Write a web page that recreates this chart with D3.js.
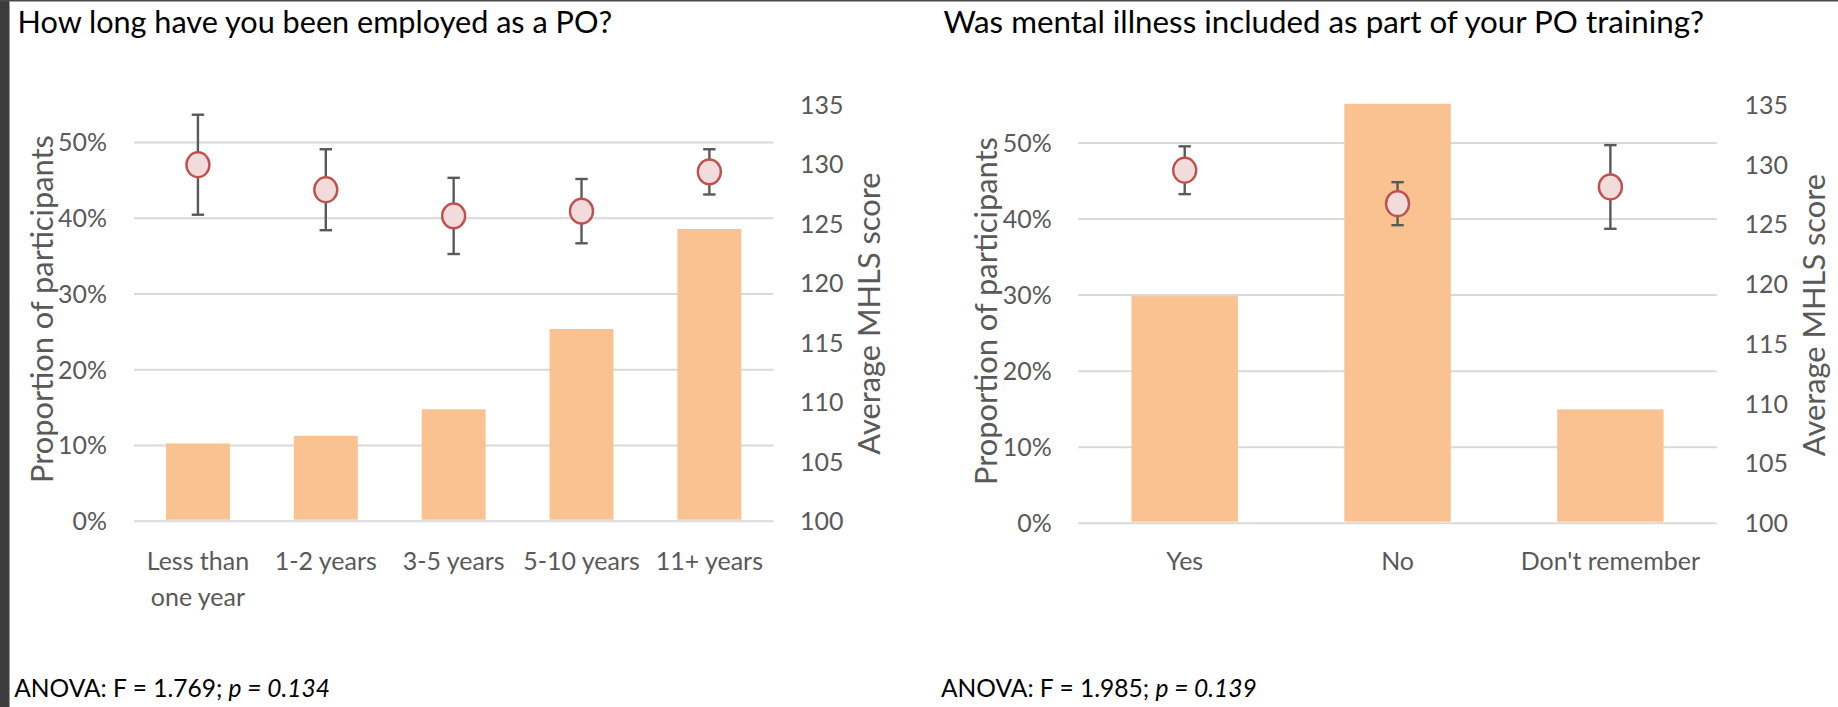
<!DOCTYPE html>
<html><head><meta charset="utf-8">
<script src="https://cdn.jsdelivr.net/npm/d3@7"></script>
<style>html,body{margin:0;padding:0;background:#fff;} svg{display:block;}</style>
</head><body>
<svg id="c" width="1838" height="707"></svg>
<script>
// ---------- data ----------
const catsTenure = ["Less than one year", "1-2 years", "3-5 years", "5-10 years", "11+ years"];
const shareTenure = [0.102, 0.112, 0.147, 0.253, 0.385];
const mhlsTenure = [129.9, 127.8, 125.6, 126.0, 129.3];
const errTenure = [4.2, 3.4, 3.2, 2.7, 1.9];

const catsTraining = ["Yes", "No", "Don't remember"];
const shareTraining = [0.298, 0.551, 0.149];
const mhlsTraining = [129.5, 126.7, 128.1];
const errTraining = [2.0, 1.8, 3.5];

const shareTicks = [0, 0.1, 0.2, 0.3, 0.4, 0.5];
const scoreTicks = [100, 105, 110, 115, 120, 125, 130, 135];
const shareDomain = [0, 0.55];
const scoreDomain = [100, 135];

const titles = ["How long have you been employed as a PO?", "Was mental illness included as part of your PO training?"];
const anovaF = ["1.769", "1.985"];
const anovaP = ["0.134", "0.139"];
const yTitle = "Proportion of participants";
const y2Title = "Average MHLS score";

// ---------- setup ----------
const FONT = "Lato, 'Open Sans', 'DejaVu Sans', sans-serif";
const svg = d3.select("#c");
svg.append("rect").attr("width", 1838).attr("height", 707).attr("fill", "#fff");

function fitSize(str, target, style) {
  const t = svg.append("text").attr("font-family", FONT).attr("font-size", 100)
    .attr("font-style", style || "normal").text(str);
  const w = t.node().getComputedTextLength();
  t.remove();
  return 100 * target / w;
}
function anovaText(sel, i) {
  sel.append("tspan").text("ANOVA: F = " + anovaF[i] + "; ");
  sel.append("tspan").attr("font-style", "italic").text("p = " + anovaP[i]);
}
const tickFS = fitSize("1-2 years", 102);
const titleFS = [fitSize(titles[0], 595), fitSize(titles[1], 761)];
const axTitleFS = fitSize(yTitle, 348);
let anovaFS;
{
  const t = svg.append("text").attr("font-family", FONT).attr("font-size", 100);
  anovaText(t, 0);
  anovaFS = 100 * 316 / t.node().getComputedTextLength();
  t.remove();
}

function panel(cfg) {
  const g = svg.append("g");
  const x = d3.scaleBand().domain(cfg.cats).range([cfg.x0, cfg.x1]).paddingInner(0.5).paddingOuter(0.25);
  const y = d3.scaleLinear().domain(shareDomain).range([cfg.yb, cfg.yt]);
  const y2 = d3.scaleLinear().domain(scoreDomain).range([cfg.yb, cfg.yt]);

  // gridlines
  const grid = g.append("g").attr("transform", `translate(${cfg.x0},0)`)
    .call(d3.axisLeft(y).tickValues(shareTicks).tickSize(-(cfg.x1 - cfg.x0)).tickFormat(""));
  grid.select(".domain").remove();
  grid.selectAll("line").attr("stroke", "#d9d9d9").attr("stroke-width", 2);

  // left axis labels
  const la = g.append("g").attr("transform", `translate(${cfg.lx},0)`)
    .call(d3.axisLeft(y).tickValues(shareTicks).tickSize(0).tickPadding(0).tickFormat(d3.format(".0%")));
  la.select(".domain").remove();
  la.selectAll("text").attr("font-family", FONT).attr("font-size", tickFS).attr("fill", "#595959").attr("dy", "0.36em");

  // right axis labels
  const ra = g.append("g").attr("transform", `translate(${cfg.rx},0)`)
    .call(d3.axisRight(y2).tickValues(scoreTicks).tickSize(0).tickPadding(0));
  ra.select(".domain").remove();
  ra.selectAll("text").attr("font-family", FONT).attr("font-size", tickFS).attr("fill", "#595959").attr("dy", "0.36em");

  // bars
  g.append("g").selectAll("rect").data(cfg.share).join("rect")
    .attr("x", (d, i) => x(cfg.cats[i]))
    .attr("width", x.bandwidth())
    .attr("y", d => y(d))
    .attr("height", d => y(0) - y(d) - 1)
    .attr("fill", "#F9C290");

  // error bars
  const cx = i => x(cfg.cats[i]) + x.bandwidth() / 2;
  const eb = g.append("g").attr("stroke", "#595959").attr("stroke-width", 2.4).attr("fill", "none");
  cfg.mhls.forEach((m, i) => {
    const top = y2(m + cfg.err[i]), bot = y2(m - cfg.err[i]), c = cx(i);
    eb.append("line").attr("x1", c).attr("x2", c).attr("y1", top).attr("y2", bot);
    eb.append("line").attr("x1", c - 6.2).attr("x2", c + 6.2).attr("y1", top).attr("y2", top);
    eb.append("line").attr("x1", c - 6.2).attr("x2", c + 6.2).attr("y1", bot).attr("y2", bot);
  });
  // markers
  g.append("g").selectAll("ellipse").data(cfg.mhls).join("ellipse")
    .attr("cx", (d, i) => cx(i)).attr("cy", d => y2(d))
    .attr("rx", 11.5).attr("ry", 12.4)
    .attr("fill", "#F2DCDB").attr("stroke", "#C0504D").attr("stroke-width", 2.4);

  // x labels
  const xa = g.append("g").attr("transform", `translate(0,${cfg.yb})`)
    .call(d3.axisBottom(x).tickSize(0).tickPadding(0));
  xa.select(".domain").remove();
  xa.selectAll("text").attr("font-family", FONT).attr("font-size", tickFS).attr("fill", "#595959")
    .attr("y", 0).attr("dy", 0)
    .each(function (d) {
      const t = d3.select(this);
      const words = d.split(" ");
      const lines = [];
      let cur = "";
      t.text("");
      words.forEach(w => {
        const test = cur ? cur + " " + w : w;
        t.text(test);
        if (t.node().getComputedTextLength() > x.step() * 0.92 && cur) { lines.push(cur); cur = w; }
        else cur = test;
      });
      lines.push(cur);
      t.text("");
      lines.forEach((ln, k) => {
        t.append("tspan").attr("x", 0).attr("y", cfg.lab1 - cfg.yb + k * 36).text(ln);
      });
    });

  // axis titles
  g.append("text").attr("transform", `translate(${cfg.ytx},${cfg.yty}) rotate(-90)`)
    .attr("text-anchor", "middle").attr("font-family", FONT).attr("font-size", axTitleFS)
    .attr("fill", "#595959").text(yTitle);
  g.append("text").attr("transform", `translate(${cfg.y2tx},${cfg.y2ty}) rotate(-90)`)
    .attr("text-anchor", "middle").attr("font-family", FONT).attr("font-size", axTitleFS)
    .attr("fill", "#595959").text(y2Title);

  // chart title
  g.append("text").attr("x", cfg.tx).attr("y", cfg.ty).attr("font-family", FONT)
    .attr("font-size", titleFS[cfg.idx]).attr("fill", "#000").text(cfg.title);

  // anova
  const an = g.append("text").attr("x", cfg.ax).attr("y", 697).attr("font-family", FONT)
    .attr("font-size", anovaFS).attr("fill", "#000");
  anovaText(an, cfg.idx);
}

panel({
  idx: 0, cats: catsTenure, share: shareTenure, mhls: mhlsTenure, err: errTenure, title: titles[0],
  x0: 134, x1: 773.3, yt: 104, yb: 520.7, lx: 107, rx: 800, lab1: 570,
  ytx: 52.5, yty: 309, y2tx: 880, y2ty: 313.5, tx: 17.6, ty: 33.3, ax: 14.2
});
panel({
  idx: 1, cats: catsTraining, share: shareTraining, mhls: mhlsTraining, err: errTraining, title: titles[1],
  x0: 1078.3, x1: 1716.8, yt: 104.5, yb: 522.7, lx: 1051.7, rx: 1744.5, lab1: 570,
  ytx: 996.7, yty: 311, y2tx: 1825, y2ty: 315, tx: 943.4, ty: 32.5, ax: 941
});

// frame
svg.append("rect").attr("x", 0).attr("y", 0).attr("width", 9.5).attr("height", 707).attr("fill", "#3c3c3c");
svg.append("rect").attr("x", 0).attr("y", 0).attr("width", 1838).attr("height", 1.5).attr("fill", "#4a4a4a");
</script>
</body></html>
